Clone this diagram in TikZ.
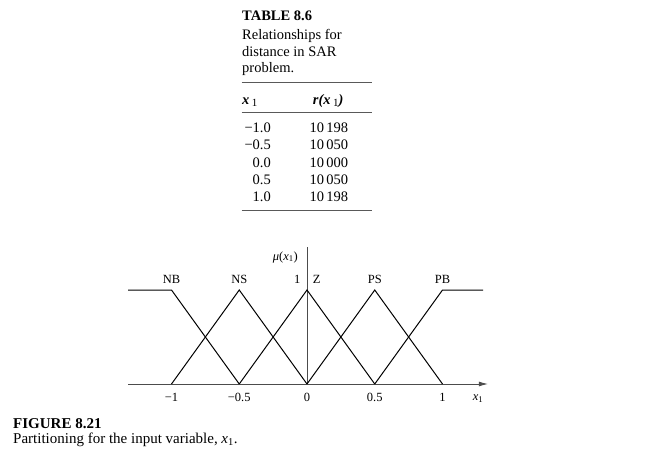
\documentclass[tikz,border=0pt]{standalone}
\usepackage{fontspec}
\setmainfont{Liberation Serif}
\usepackage{tikz}
\usetikzlibrary{arrows.meta}

\begin{document}
\begin{tikzpicture}[x=1pt, y=-1pt,
  memb/.style={black, line width=1pt},
  axisline/.style={black!70, line width=0.9pt},
  rule/.style={black!65, line width=0.9pt},
  lab/.style={font=\fontsize{12.5}{14}\selectfont, anchor=base, inner sep=0pt},
  txt/.style={font=\fontsize{14.5}{17}\selectfont, anchor=base west, inner sep=0pt},
  num/.style={font=\fontsize{14.5}{17}\selectfont, anchor=base east, inner sep=0pt}]
  \useasboundingbox (0,0) rectangle (650,470);
  % table caption
  \node[txt, font=\fontsize{14.5}{17}\selectfont\bfseries] (tabno) at (242,21) {TABLE 8.6};
  \node[txt] (cap1) at (242,39.3) {Relationships for};
  \node[txt] (cap2) at (242,56.7) {distance in SAR};
  \node[txt] (cap3) at (242,73) {problem.};
  \draw[rule] (241.5,82.7) -- (372,82.7);
  \node[txt] (hx) at (242,105) {\bfseries\itshape x\,\raisebox{-2pt}{\normalfont\fontsize{11}{12}\selectfont 1}};
  \node[txt] (hr) at (312.7,105) {\bfseries\itshape r(x\,\raisebox{-2pt}{\normalfont\fontsize{11}{12}\selectfont 1})};
  \draw[rule] (241.5,112.3) -- (372,112.3);
  % rows
  \node[num] (xa) at (271,132.3) {−1.0};
  \node[num] (xb) at (271,149.7) {−0.5};
  \node[num] (xc) at (271,167.1) {0.0};
  \node[num] (xd) at (271,184.5) {0.5};
  \node[num] (xe) at (271,201.9) {1.0};
  \node[txt] (ra) at (309.3,132.3) {10\,198};
  \node[txt] (rb) at (309.3,149.7) {10\,050};
  \node[txt] (rc) at (309.3,167.1) {10\,000};
  \node[txt] (rd) at (309.3,184.5) {10\,050};
  \node[txt] (re) at (309.3,201.9) {10\,198};
  \draw[rule] (241.5,210.7) -- (372,210.7);

  % membership functions
  \begin{scope}[xshift=307pt, yshift=-384pt, x=135.5pt, y=94pt]
    \coordinate (O) at (0,0);
    \draw[axisline, -{Latex[length=9pt, width=5pt]}] (-1.32,0) -- (1.335,0);
    \draw[axisline] (O) -- (0,1.457);
    \draw[memb] (-1.32,1) -- (-1,1) -- (-0.5,0);
    \draw[memb] (-1,0) -- (-0.5,1) -- (0,0);
    \draw[memb] (-0.5,0) -- (0,1) -- (0.5,0);
    \draw[memb] (0,0) -- (0.5,1) -- (1,0);
    \draw[memb] (0.5,0) -- (1,1) -- (1.3,1);
    \node[lab] (nb) at (-1,1.064) {NB};
    \node[lab] (ns) at (-0.5,1.064) {NS};
    \node[lab] (one) at (-0.072,1.064) {1};
    \node[lab] (z) at (0.072,1.064) {Z};
    \node[lab] (ps) at (0.5,1.064) {PS};
    \node[lab] (pb) at (1,1.064) {PB};
    \node[lab, anchor=base east] (mu) at (-0.066,1.319) {\itshape μ\upshape(\itshape x\textsubscript{\upshape 1}\upshape)};
    \node[lab] (tm1) at (-1,-0.188) {−1};
    \node[lab] (tm05) at (-0.5,-0.188) {−0.5};
    \node[lab] (t0) at (0,-0.188) {0};
    \node[lab] (t05) at (0.5,-0.188) {0.5};
    \node[lab] (t1) at (1,-0.188) {1};
    \node[lab] (xlab) at (1.262,-0.18) {\itshape x\textsubscript{\upshape 1}};
  \end{scope}

  % figure caption
  \node[txt, font=\fontsize{15}{17}\selectfont\bfseries] (figno) at (13,428) {FIGURE 8.21};
  \node[txt, font=\fontsize{15}{17}\selectfont] (figcap) at (13,443) {Partitioning for the input variable, \textit{x}\textsubscript{1}.};
\end{tikzpicture}
\end{document}
